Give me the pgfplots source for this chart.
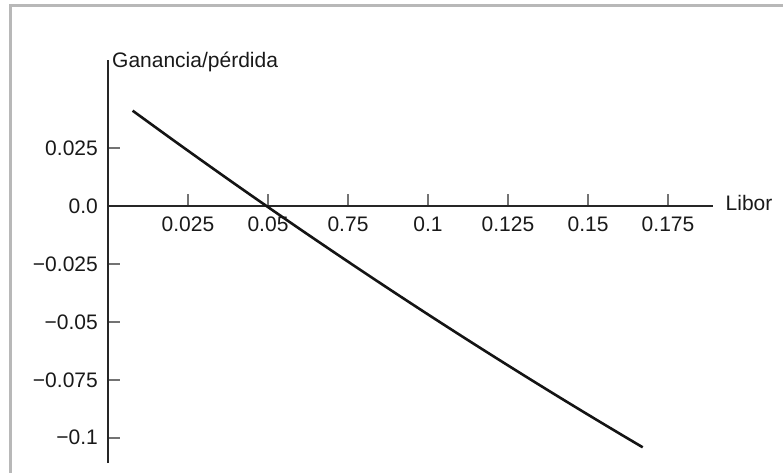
\documentclass[border=0pt]{standalone}
\usepackage{fontspec}
\setmainfont{Liberation Sans}
\usepackage{pgfplots}
\pgfplotsset{compat=1.18}
\begin{document}
\begin{tikzpicture}[x=1pt,y=1pt]
\useasboundingbox (-108,-10) rectangle (675,463);
\draw[line width=3pt, color=black!28, line join=miter] (-97.2,-30) -- (-97.2,457.7) -- (700,457.7);
\begin{axis}[
  at={(0,0)}, anchor=south west,
  scale only axis,
  width=605pt, height=403pt,
  xmin=0, xmax=0.18906,
  ymin=-0.11093, ymax=0.06315,
  axis lines=middle,
  axis line style={-, line width=1.8pt, color=black!85},
  tick align=inside,
  major tick length=12pt,
  tick style={line width=1.8pt, color=black!55},
  hide obscured x ticks=false,
  hide obscured y ticks=false,
  xtick={0.025,0.05,0.075,0.1,0.125,0.15,0.175},
  xticklabels={0.025,0.05,0.75,0.1,0.125,0.15,0.175},
  ytick={-0.1,-0.075,-0.05,-0.025,0,0.025},
  yticklabels={−0.1,−0.075,−0.05,−0.025,0.0,0.025},
  tick label style={font=\fontsize{21}{25}\selectfont, inner sep=0pt, color=black!90},
  xticklabel style={anchor=north, yshift=-10.5pt},
  yticklabel style={anchor=east, xshift=-10pt},
  xlabel={Libor},
  ylabel={Ganancia/pérdida},
  every axis x label/.style={at={(axis cs:0.18906,0)}, anchor=base west, xshift=12.5pt, yshift=-4.5pt, font=\fontsize{21}{25}\selectfont, inner sep=0pt, color=black!90},
  every axis y label/.style={at={(axis description cs:0,1)}, anchor=base west, xshift=4pt, yshift=-8pt, font=\fontsize{21}{25}\selectfont, inner sep=0pt, color=black!90},
  clip=false,
]
\addplot[line width=2.6pt, color=black!92, smooth] coordinates {
  (0.0077,0.04125) (0.02,0.02892) (0.03,0.01903) (0.04,0.00926)
  (0.05,-0.00038) (0.06,-0.00991) (0.07,-0.01930) (0.08,-0.02858)
  (0.09,-0.03773) (0.10,-0.04676) (0.11,-0.05566) (0.12,-0.06444)
  (0.13,-0.07310) (0.14,-0.08164) (0.15,-0.09005) (0.16,-0.09834)
  (0.1671,-0.10415)
};
\end{axis}
\end{tikzpicture}
\end{document}
